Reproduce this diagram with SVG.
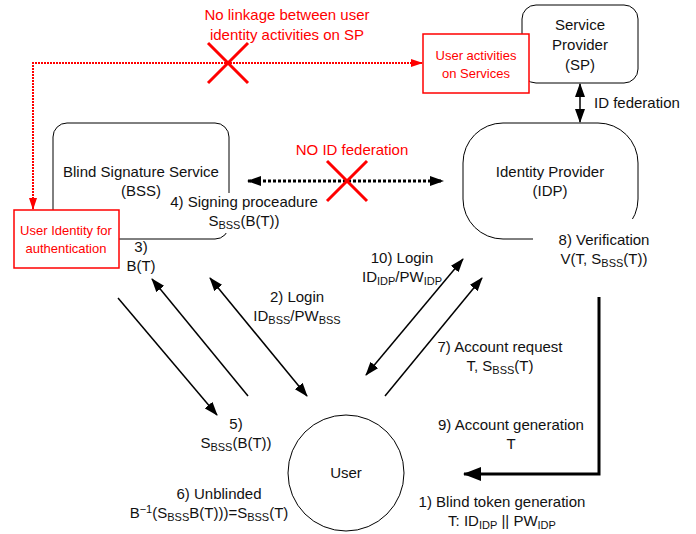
<svg xmlns="http://www.w3.org/2000/svg" width="696" height="534" viewBox="0 0 696 534">
<style>
.t{font-family:"Liberation Sans",Arial,sans-serif;font-size:15px;fill:#111;text-anchor:middle}
.r{font-family:"Liberation Sans",Arial,sans-serif;font-size:15px;fill:#f00;text-anchor:middle}
.rs{font-family:"Liberation Sans",Arial,sans-serif;font-size:13px;fill:#f00;text-anchor:middle}
.sub{font-size:11px}
.box{fill:#fff;stroke:#000;stroke-width:1}
.rbox{fill:#fff;stroke:#f00;stroke-width:1.5}
.ln{stroke:#000;stroke-width:1.5;fill:none}
.x{stroke:#f00;stroke-width:3}
</style>
<defs>
<marker id="ah" markerUnits="userSpaceOnUse" markerWidth="14" markerHeight="10" refX="13" refY="5" orient="auto-start-reverse" viewBox="0 0 14 10"><path d="M0,0 L14,5 L0,10 Z" fill="#000"/></marker>
<marker id="ahr" markerUnits="userSpaceOnUse" markerWidth="12" markerHeight="10" refX="11" refY="5" orient="auto" viewBox="0 0 12 10"><path d="M0,1 L12,5 L0,9 Z" fill="#f00"/></marker>
<marker id="ahb" markerUnits="userSpaceOnUse" markerWidth="18" markerHeight="14" refX="17" refY="7" orient="auto" viewBox="0 0 18 14"><path d="M0,0 L18,7 L0,14 Z" fill="#000"/></marker>
</defs>

<g id="sp">
<rect class="box" x="522" y="5" width="116" height="78" rx="14"/>
<text class="t" x="580" y="30">Service</text>
<text class="t" x="580" y="50">Provider</text>
<text class="t" x="580" y="70">(SP)</text>
</g>

<g id="user-activities">
<rect class="rbox" x="423" y="34" width="106" height="59"/>
<text class="rs" x="476" y="60">User activities</text>
<text class="rs" x="476" y="78">on Services</text>
</g>

<g id="idp">
<rect class="box" x="463" y="123" width="175" height="116" rx="40"/>
<rect x="533" y="219" width="112" height="22" fill="#fff"/>
<text class="t" x="550" y="177">Identity Provider</text>
<text class="t" x="550" y="196">(IDP)</text>
</g>

<g id="bss">
<rect class="box" x="53" y="123" width="176" height="116" rx="14"/>
<rect x="166" y="193" width="158" height="40" fill="#fff"/>
<text class="t" x="141" y="177">Blind Signature Service</text>
<text class="t" x="141" y="196">(BSS)</text>
</g>

<g id="user-identity">
<rect class="rbox" x="14" y="210" width="105" height="58"/>
<text class="rs" x="66" y="235">User Identity for</text>
<text class="rs" x="66" y="253">authentication</text>
</g>

<g id="user">
<circle cx="346" cy="473" r="58" fill="#fff" stroke="#000" stroke-width="1"/>
<text class="t" x="346" y="478">User</text>
</g>

<g id="connectors">
<path d="M412,63 L33,63 L33,200" fill="none" stroke="#f00" stroke-width="2" stroke-dasharray="2,1"/>
<line x1="410" y1="63" x2="422" y2="63" stroke="#f00" stroke-width="2" marker-end="url(#ahr)"/>
<line x1="33" y1="198" x2="33" y2="209" stroke="#f00" stroke-width="2" marker-end="url(#ahr)"/>
<line class="x" x1="208" y1="43" x2="248" y2="83"/>
<line class="x" x1="248" y1="43" x2="208" y2="83"/>

<line class="ln" x1="580" y1="84" x2="580" y2="122" marker-start="url(#ah)" marker-end="url(#ah)"/>

<line x1="248" y1="181" x2="443" y2="181" stroke="#000" stroke-width="3" stroke-dasharray="3,2" marker-start="url(#ah)" marker-end="url(#ah)"/>
<line class="x" x1="327" y1="161" x2="367" y2="201"/>
<line class="x" x1="367" y1="161" x2="327" y2="201"/>

<line class="ln" x1="118" y1="298" x2="217" y2="415" marker-end="url(#ah)"/>
<line class="ln" x1="248" y1="396" x2="152" y2="279" marker-end="url(#ah)"/>
<line class="ln" x1="210" y1="278" x2="307" y2="396" marker-start="url(#ah)" marker-end="url(#ah)"/>

<line class="ln" x1="366" y1="375" x2="463" y2="259" marker-start="url(#ah)" marker-end="url(#ah)"/>
<line class="ln" x1="385" y1="396" x2="482" y2="278" marker-end="url(#ah)"/>

<path d="M599,297 L599,474 L464,474" fill="none" stroke="#000" stroke-width="3" marker-end="url(#ahb)"/>
</g>

<g id="labels">
<text class="r" x="287" y="20">No linkage between user</text>
<text class="r" x="287" y="40">identity activities on SP</text>
<text class="t" x="594" y="108" style="text-anchor:start">ID federation</text>
<text class="r" x="352" y="155">NO ID federation</text>

<text class="t" x="244" y="207">4) Signing proceadure</text>
<text class="t" x="244" y="226">S<tspan class="sub" dy="3">BSS</tspan><tspan dy="-3">(B(T))</tspan></text>

<text class="t" x="141" y="252">3)</text>
<text class="t" x="141" y="271">B(T)</text>

<text class="t" x="297" y="302">2) Login</text>
<text class="t" x="297" y="321">ID<tspan class="sub" dy="3">BSS</tspan><tspan dy="-3">/PW</tspan><tspan class="sub" dy="3">BSS</tspan></text>

<text class="t" x="402" y="263">10) Login</text>
<text class="t" x="402" y="282">ID<tspan class="sub" dy="3">IDP</tspan><tspan dy="-3">/PW</tspan><tspan class="sub" dy="3">IDP</tspan></text>

<text class="t" x="604" y="245">8) Verification</text>
<text class="t" x="604" y="264">V(T, S<tspan class="sub" dy="3">BSS</tspan><tspan dy="-3">(T))</tspan></text>

<text class="t" x="500" y="352">7) Account request</text>
<text class="t" x="500" y="371">T, S<tspan class="sub" dy="3">BSS</tspan><tspan dy="-3">(T)</tspan></text>

<text class="t" x="511" y="430">9) Account generation</text>
<text class="t" x="511" y="449">T</text>

<text class="t" x="236" y="429">5)</text>
<text class="t" x="236" y="448">S<tspan class="sub" dy="3">BSS</tspan><tspan dy="-3">(B(T))</tspan></text>

<text class="t" x="219" y="499">6) Unblinded</text>
<text class="t" x="209" y="518">B<tspan class="sub" dy="-5">−1</tspan><tspan dy="5">(S</tspan><tspan class="sub" dy="3">BSS</tspan><tspan dy="-3">B(T)))=S</tspan><tspan class="sub" dy="3">BSS</tspan><tspan dy="-3">(T)</tspan></text>

<text class="t" x="502" y="507">1) Blind token generation</text>
<text class="t" x="502" y="526">T: ID<tspan class="sub" dy="3">IDP</tspan><tspan dy="-3"> || PW</tspan><tspan class="sub" dy="3">IDP</tspan></text>
</g>
</svg>
